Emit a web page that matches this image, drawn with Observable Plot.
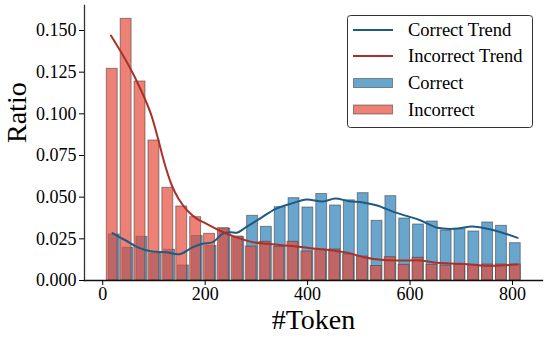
<!DOCTYPE html>
<html>
<head>
<meta charset="utf-8">
<script src="https://cdn.jsdelivr.net/npm/d3@7"></script>
<script src="https://cdn.jsdelivr.net/npm/@observablehq/plot@0.6"></script>
<style>
  html, body { margin: 0; padding: 0; background: #fff; }
  #chart { width: 548px; height: 339px; }
  #chart svg text { font-family: 'Liberation Serif', 'Times New Roman', serif; }
</style>
</head>
<body>
<div id="chart"></div>
<script>
// ---- data ----
const binCount = 30;
const incorrectRange = [5, 819];
const correctRange = [9, 819];
const incorrectRatio = [0.127, 0.157, 0.1194, 0.084, 0.0556, 0.0444, 0.038, 0.028, 0.0314, 0.0264,
  0.0204, 0.0232, 0.0202, 0.0232, 0.0174, 0.0186, 0.0186, 0.0157, 0.0144, 0.0087,
  0.014, 0.0094, 0.0136, 0.0094, 0.009, 0.0096, 0.0094, 0.0096, 0.0096, 0.0096];
const correctRatio = [0.0276, 0.0196, 0.0262, 0.016, 0.0184, 0.009, 0.0267, 0.0207, 0.031, 0.026,
  0.0388, 0.0322, 0.044, 0.0494, 0.0438, 0.0519, 0.045, 0.0481, 0.0524, 0.0358,
  0.0506, 0.0372, 0.0336, 0.0354, 0.030, 0.0308, 0.0294, 0.0348, 0.0328, 0.0224];
const correctTrendX = [19, 45, 71, 96, 124, 150, 176, 195, 215, 234, 250, 262, 280, 306, 338, 371, 397, 430, 454, 480, 508, 536, 569, 595, 621, 654, 686, 722, 751, 777, 810];
const correctTrendY = [0.0284, 0.024, 0.0196, 0.0174, 0.017, 0.0158, 0.020, 0.022, 0.023, 0.028, 0.029, 0.0287, 0.032, 0.037, 0.043, 0.0464, 0.0486, 0.0474, 0.0492, 0.0476, 0.0468, 0.045, 0.041, 0.0386, 0.036, 0.0316, 0.031, 0.0324, 0.031, 0.029, 0.0256];
const incorrectTrendX = [16, 49, 75, 94, 108, 120, 135, 148, 165, 184, 203, 228, 260, 293, 322, 374, 406, 432, 478, 510, 543, 582, 621, 654, 699, 738, 777, 810];
const incorrectTrendY = [0.147, 0.130, 0.114, 0.100, 0.085, 0.071, 0.057, 0.049, 0.042, 0.037, 0.034, 0.030, 0.026, 0.023, 0.022, 0.0206, 0.0194, 0.0186, 0.0166, 0.014, 0.0124, 0.012, 0.012, 0.0106, 0.010, 0.009, 0.009, 0.0096];
const xTicks = [0, 200, 400, 600, 800];
const yTicks = [0, 0.025, 0.05, 0.075, 0.1, 0.125, 0.15];
const seriesNames = ["Correct Trend", "Incorrect Trend", "Correct", "Incorrect"];

// ---- build tables ----
function bins(range, values) {
  const w = (range[1] - range[0]) / binCount;
  return values.map((v, i) => ({x1: range[0] + i * w, x2: range[0] + (i + 1) * w, y: v}));
}
const correctBins = bins(correctRange, correctRatio);
const incorrectBins = bins(incorrectRange, incorrectRatio);
const correctTrend = correctTrendX.map((x, i) => ({x, y: correctTrendY[i]}));
const incorrectTrend = incorrectTrendX.map((x, i) => ({x, y: incorrectTrendY[i]}));

const blue = "#2980b9", red = "#e74c3c";
const blueLine = "#1f5a82", redLine = "#a8312a";
const font = "'Liberation Serif', 'Times New Roman', serif";

const chart = Plot.plot({
  width: 548,
  height: 339,
  marginLeft: 84,
  marginRight: 6,
  marginTop: 5,
  marginBottom: 59,
  style: {fontFamily: font, fontSize: "18px", color: "#000", background: "#fff", overflow: "visible"},
  x: {domain: [-35.6, 858.6], label: null},
  y: {domain: [0, 0.165], label: null},
  marks: [
    Plot.rectY(correctBins, {x1: "x1", x2: "x2", y: "y", fill: blue, fillOpacity: 0.7,
      stroke: "#3a3a3a", strokeOpacity: 0.55, strokeWidth: 1, insetLeft: 1.5, insetRight: 1.5}),
    Plot.rectY(incorrectBins, {x1: "x1", x2: "x2", y: "y", fill: red, fillOpacity: 0.7,
      stroke: "#3a3a3a", strokeOpacity: 0.55, strokeWidth: 1, insetLeft: 1.5, insetRight: 1.5}),
    Plot.line(correctTrend, {x: "x", y: "y", stroke: blueLine, strokeWidth: 2, curve: "catmull-rom"}),
    Plot.line(incorrectTrend, {x: "x", y: "y", stroke: redLine, strokeWidth: 2, curve: "catmull-rom"}),
    Plot.frame({anchor: "left", stroke: "#333", strokeWidth: 1.3}),
    Plot.frame({anchor: "bottom", stroke: "#111", strokeWidth: 1.3}),
    Plot.axisX({ticks: xTicks, tickFormat: d => String(d), tickSize: 5, tickPadding: 2, fontSize: 18, fontFamily: font, label: null}),
    Plot.axisY({ticks: yTicks, tickFormat: d3.format(".3f"), tickSize: 5, tickPadding: 3, fontSize: 18, fontFamily: font, label: null}),
    Plot.text(["#Token"], {frameAnchor: "bottom", dy: 48, lineAnchor: "bottom", fontSize: 28, fontFamily: font, fill: "#000"}),
    Plot.text(["Ratio"], {frameAnchor: "left", dx: -67, rotate: -90, fontSize: 28, fontFamily: font, fill: "#000"})
  ]
});
document.getElementById("chart").appendChild(chart);

// ---- legend (inside plot, upper right) ----
const svg = d3.select(chart);
const lg = svg.append("g").attr("font-family", font).attr("font-size", 18.5).attr("text-anchor", "start");
lg.append("rect").attr("x", 347.5).attr("y", 15.5).attr("width", 185).attr("height", 112).attr("rx", 3)
  .attr("fill", "#fff").attr("fill-opacity", 0.85).attr("stroke", "#333").attr("stroke-width", 1);
const rows = [30, 56, 83, 109.5];
seriesNames.forEach((name, i) => {
  const cy = rows[i];
  if (i < 2) {
    lg.append("line").attr("x1", 353).attr("x2", 393).attr("y1", cy).attr("y2", cy)
      .attr("stroke", i === 0 ? blueLine : redLine).attr("stroke-width", 2);
  } else {
    lg.append("rect").attr("x", 353.5).attr("y", cy - 4.5).attr("width", 39).attr("height", 9)
      .attr("fill", i === 2 ? blue : red).attr("fill-opacity", 0.7)
      .attr("stroke", "#3a3a3a").attr("stroke-opacity", 0.55);
  }
  lg.append("text").attr("x", 408).attr("y", cy).attr("dy", "0.35em").attr("text-anchor", "start")
    .attr("fill", "#000").text(name);
});
</script>
</body>
</html>
